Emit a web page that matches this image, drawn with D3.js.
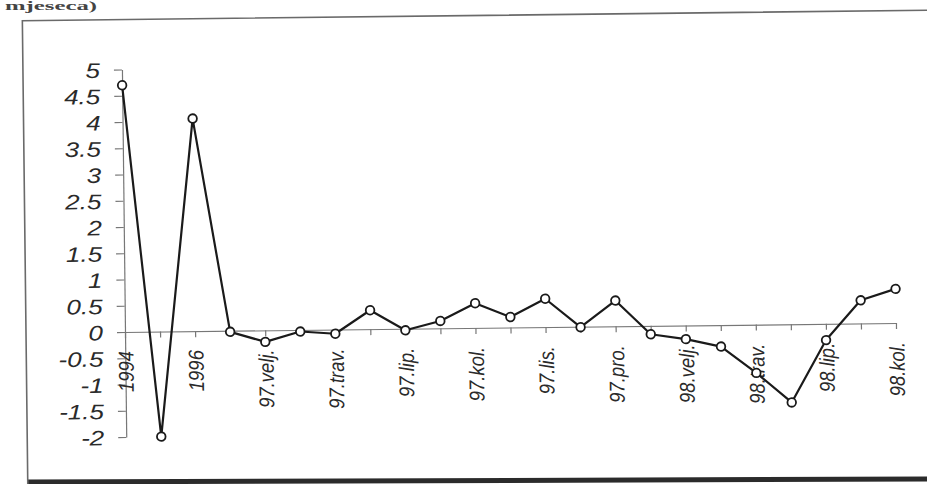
<!DOCTYPE html>
<html>
<head>
<meta charset="utf-8">
<script src="https://cdn.jsdelivr.net/npm/d3@7"></script>
<style>
html,body{margin:0;padding:0;background:#fff;}
svg{display:block;}
</style>
</head>
<body>
<svg id="chart" width="927" height="484"></svg>
<script>
const categories = ["1994","1995","1996","97.sij.","97.velj.","97.ožu.","97.trav.","97.svi.","97.lip.","97.srp.","97.kol.","97.ruj.","97.lis.","97.stu.","97.pro.","98.sij.","98.velj.","98.ožu.","98.trav.","98.svi.","98.lip.","98.srp.","98.kol."];
const values = [4.7,-2.0,4.05,-0.02,-0.22,-0.03,-0.08,0.36,-0.03,0.14,0.47,0.2,0.54,-0.01,0.49,-0.16,-0.26,-0.41,-0.92,-1.49,-0.31,0.44,0.65];
const shownLabels = ["1994","1996","97.velj.","97.trav.","97.lip.","97.kol.","97.lis.","97.pro.","98.velj.","98.trav.","98.lip.","98.kol."];
const yTicks = [-2,-1.5,-1,-0.5,0,0.5,1,1.5,2,2.5,3,3.5,4,4.5,5];
const captionText = "mjeseca)";

const svg = d3.select("#chart");
const W = 927, H = 484;
const axisX = 125, plotRight = 896, yTop = 69.5, yBottom = 437;

// caption (partly cut off at top of the scan in the reference)
svg.append("text").attr("x", 5).attr("y", 10)
  .attr("font-family", "Liberation Serif, serif").attr("font-size", 12)
  .attr("font-weight", "bold").attr("fill", "#444")
  .attr("textLength", 92).attr("lengthAdjust", "spacingAndGlyphs")
  .text(captionText);

// bottom dark band (page edge)
svg.append("path").attr("d", "M28,482 L927,479")
  .attr("stroke", "#2b2b2b").attr("stroke-width", 5).attr("fill", "none");

const g = svg.append("g").attr("transform", `rotate(-0.67, ${axisX}, 332)`);

// frame
g.append("path").attr("d", `M26,${H+10} L26,19.6 L${W+20},19.6`)
  .attr("stroke", "#6a6a6a").attr("stroke-width", 1.6).attr("fill", "none");

const x = d3.scalePoint().domain(categories).range([axisX, plotRight]).padding(0);
const y = d3.scaleLinear().domain([-2, 5]).range([yBottom, yTop]);

const font = "Liberation Sans, Arial, sans-serif";

// Y axis
const yAxis = g.append("g").attr("transform", `translate(${axisX},0)`)
  .call(d3.axisLeft(y).tickValues(yTicks).tickSize(8).tickSizeOuter(0).tickFormat(d => String(d)));
yAxis.select(".domain").attr("stroke", "#777").attr("stroke-width", 1.2);
yAxis.selectAll(".tick line").attr("stroke", "#777").attr("stroke-width", 1.2);
yAxis.selectAll(".tick text")
  .attr("x", 0).attr("dy", "0.36em")
  .attr("transform", "translate(-22,0) scale(1.24,1)")
  .attr("text-anchor", "end")
  .attr("font-family", font).attr("font-size", 21).attr("font-style", "italic")
  .attr("fill", "#2a2a2a");

// X axis at zero
const xAxis = g.append("g").attr("transform", `translate(0,${y(0)})`)
  .call(d3.axisBottom(x).tickSize(6).tickSizeOuter(0)
    .tickFormat(d => shownLabels.includes(d) ? d : ""));
xAxis.select(".domain").attr("stroke", "#777").attr("stroke-width", 1.2);
xAxis.selectAll(".tick line").attr("stroke", "#777").attr("stroke-width", 1.2);
xAxis.selectAll(".tick text")
  .attr("x", 0).attr("y", 0).attr("dy", "0.36em")
  .attr("transform", "translate(0,19) scale(1.15,1) rotate(-90)")
  .attr("text-anchor", "end")
  .attr("font-family", font).attr("font-size", 18.5).attr("font-style", "italic")
  .attr("fill", "#2a2a2a");

// line
const line = d3.line().x((d, i) => x(categories[i])).y(d => y(d));
g.append("path").datum(values).attr("d", line)
  .attr("fill", "none").attr("stroke", "#1a1a1a").attr("stroke-width", 2.2)
  .attr("stroke-linejoin", "round");

// markers
g.selectAll("circle.pt").data(values).join("circle").attr("class", "pt")
  .attr("cx", (d, i) => x(categories[i])).attr("cy", d => y(d))
  .attr("r", 4.3).attr("fill", "#fff").attr("stroke", "#1a1a1a").attr("stroke-width", 1.8);
</script>
</body>
</html>
